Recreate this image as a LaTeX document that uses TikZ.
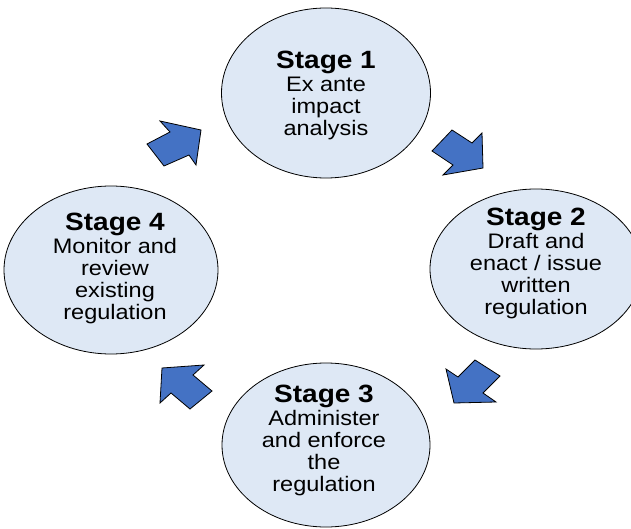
\documentclass[tikz,border=0pt]{standalone}
\usepackage{fontspec}
\setmainfont{Liberation Sans}[FakeStretch=1.12]
\usetikzlibrary{shapes.geometric}
\definecolor{ellfill}{HTML}{DEE8F5}
\definecolor{arrowblue}{HTML}{4472C4}
\tikzset{
  stagebox/.style={ellipse, draw=black, line width=0.8pt, fill=ellfill, inner sep=0pt},
  stagetext/.style={align=center, inner sep=0pt, font=\fontsize{21}{22}\selectfont},
  blockarrow/.style={fill=arrowblue, draw=black, line width=0.8pt, line join=miter},
}
\newcommand{\stagehead}[1]{{\fontsize{25}{25}\selectfont\bfseries Stage #1}\\[1pt]}
\begin{document}
\begin{tikzpicture}[x=1pt, y=-1pt]
\useasboundingbox (0,0) rectangle (631,529);
% ellipses
\node[stagebox, minimum width=209pt, minimum height=170pt] (s1) at (326,93) {};
\node[stagebox, minimum width=212pt, minimum height=160pt] (s2) at (536,269) {};
\node[stagebox, minimum width=208pt, minimum height=164pt] (s3) at (326,445) {};
\node[stagebox, minimum width=214pt, minimum height=168pt] (s4) at (111,270) {};
% texts
\node[stagetext] (t1) at (326,95) {\stagehead{1}Ex ante\\impact\\analysis};
\node[stagetext] (t2) at (536,263) {\stagehead{2}Draft and\\enact / issue\\written\\regulation};
\node[stagetext] (t3) at (324,440) {\stagehead{3}Administer\\and enforce\\the\\regulation};
\node[stagetext] (t4) at (115,268) {\stagehead{4}Monitor and\\review\\existing\\regulation};
% block arrows
\filldraw[blockarrow] (147,144) -- (170,132) -- (160,121) -- (201,130) -- (196,165) -- (189,155) -- (164,166) -- cycle;
\filldraw[blockarrow] (452,130) -- (472,143) -- (482,133) -- (483,168) -- (443,175) -- (453,165) -- (432,151) -- cycle;
\filldraw[blockarrow] (454,403) -- (446,369) -- (458,377) -- (475,360) -- (500,376) -- (483,393) -- (496,402) -- cycle;
\filldraw[blockarrow] (162,368) -- (204,365) -- (193,375) -- (212,391) -- (190,409) -- (171,393) -- (160,403) -- cycle;
\end{tikzpicture}
\end{document}
